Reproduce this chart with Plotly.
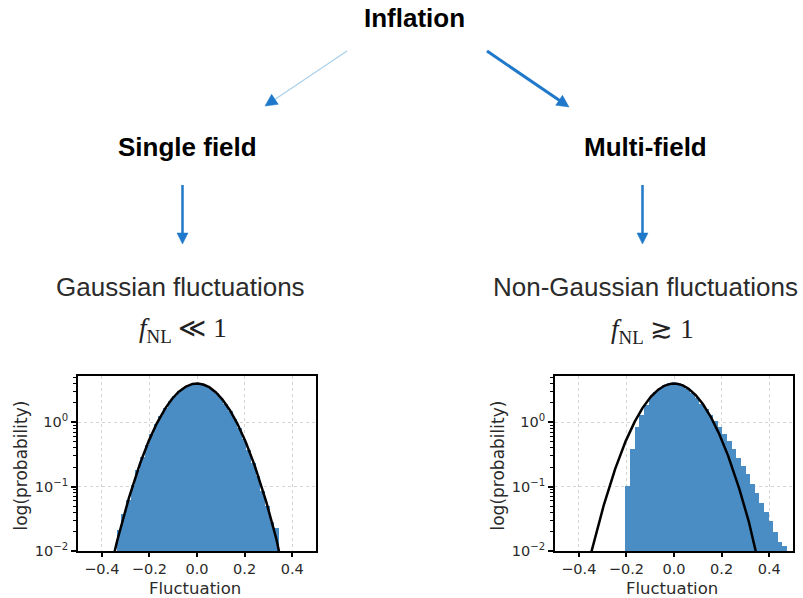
import numpy as np
import plotly.graph_objects as go

# ---- data -------------------------------------------------------------
# histogram densities (35 equal-width bins between the given edges)
single_edges = (-0.337, 0.344)
single_density = [0.021, 0.038, 0.063, 0.107, 0.178, 0.284, 0.44, 0.65, 0.925, 1.26,
                  1.67, 2.11, 2.58, 3.04, 3.45, 3.75, 3.94, 3.99, 3.89, 3.65,
                  3.29, 2.85, 2.40, 1.92, 1.50, 1.11, 0.80, 0.55, 0.37, 0.236,
                  0.146, 0.086, 0.050, 0.028, 0.023]

multi_edges = (-0.204, 0.475)
multi_density = [0.103, 0.39, 0.84, 1.3, 1.85, 2.45, 2.95, 3.45, 3.85, 4.1,
                 4.15, 4.0, 3.7, 3.3, 2.85, 2.4, 1.95, 1.6, 1.28, 1.03,
                 0.83, 0.66, 0.51, 0.38, 0.28, 0.21, 0.155, 0.11, 0.08, 0.056,
                 0.04, 0.029, 0.020, 0.014, 0.012]

# reference normal density (mean 0, sigma 0.1)
ref_mean = 0.0
ref_sigma = 0.1

x_ticks = [-0.4, -0.2, 0.0, 0.2, 0.4]
x_tick_text = ["\u22120.4", "\u22120.2", "0.0", "0.2", "0.4"]
y_ticks = [0.01, 0.1, 1]
y_tick_text = ["10<sup>\u22122</sup>", "10<sup>\u22121</sup>", "10<sup>0</sup>"]

# ---- helpers ----------------------------------------------------------
W, H = 803, 598


def px(x):
    return x / W


def py(y):
    return 1 - y / H


def bin_centers(edges, n):
    e = np.linspace(edges[0], edges[1], n + 1)
    return (e[:-1] + e[1:]) / 2, e[1] - e[0]


BAR = "#4a8dc4"
ARROW = "#1f78c9"
TXT = "#2b2b2b"
AX_TXT = "#2a2a2a"

fig = go.Figure()

curve_x = np.linspace(-0.5, 0.5, 801)
curve_y = np.exp(-0.5 * ((curve_x - ref_mean) / ref_sigma) ** 2) / (np.sqrt(2 * np.pi) * ref_sigma)

for dens, edges, xa, ya in [(single_density, single_edges, "x", "y"),
                            (multi_density, multi_edges, "x2", "y2")]:
    cx, w = bin_centers(edges, len(dens))
    fig.add_trace(go.Bar(x=cx, y=dens, width=w, marker=dict(color=BAR, line=dict(width=0)),
                         xaxis=xa, yaxis=ya, showlegend=False))
    fig.add_trace(go.Scatter(x=curve_x, y=curve_y, mode="lines",
                             line=dict(color="black", width=2.5),
                             xaxis=xa, yaxis=ya, showlegend=False))

tick_font = dict(family="DejaVu Sans", size=14.5, color=AX_TXT)
minor_vals = [m * 10.0 ** d for d in (-2, -1, 0) for m in range(2, 10)]


def xaxis(domain):
    return dict(domain=domain, range=[-0.5, 0.5], tickmode="array", tickvals=x_ticks,
                ticktext=x_tick_text, ticks="outside", ticklen=4, tickwidth=1.5,
                tickcolor="black", showline=True, linecolor="black", linewidth=2,
                mirror=True, showgrid=True, gridcolor="#d4d4d4", griddash="dot",
                gridwidth=1, zeroline=False, tickfont=tick_font, automargin=False)


def yaxis(domain, anchor):
    return dict(domain=domain, anchor=anchor, type="log", range=[-2, 0.718],
                tickmode="array", tickvals=y_ticks, ticktext=y_tick_text,
                ticks="outside", ticklen=5, tickwidth=1.5, tickcolor="black",
                minor=dict(tickmode="array", tickvals=minor_vals, ticks="outside",
                           ticklen=3, tickwidth=1, tickcolor="black", showgrid=False),
                showline=True, linecolor="black", linewidth=2, mirror=True,
                showgrid=True, gridcolor="#d4d4d4", griddash="dot", gridwidth=1,
                zeroline=False, tickfont=tick_font, automargin=False)


panels = [(78, 316), (555, 793)]
ytop, ybot = 376, 551
ydom = [1 - ybot / H, 1 - ytop / H]
fig.update_layout(
    width=W, height=H, margin=dict(l=0, r=0, t=0, b=0),
    paper_bgcolor="white", plot_bgcolor="white", bargap=0,
    xaxis=dict(xaxis([panels[0][0] / W, panels[0][1] / W]), anchor="y"),
    yaxis=yaxis(ydom, "x"),
    xaxis2=dict(xaxis([panels[1][0] / W, panels[1][1] / W]), anchor="y2"),
    yaxis2=yaxis(ydom, "x2"),
)

ann = []
shapes = []


def label(text, x, y, size, bold=False, family="Liberation Sans, Arial, sans-serif",
          color=TXT, angle=0):
    ann.append(dict(text=f"<b>{text}</b>" if bold else text, x=px(x), y=py(y),
                    xref="paper", yref="paper", showarrow=False, xanchor="center",
                    yanchor="middle", textangle=angle, borderpad=0,
                    font=dict(family=family, size=size, color=color)))


def arrow(tail, tip, line_color, width, head_color=None, head_len=11.0, head_w=11.0):
    """Straight shaft plus a filled triangular head, all in pixel units."""
    head_color = head_color or line_color
    t = np.array(tail, float)
    p = np.array(tip, float)
    d = (p - t) / np.linalg.norm(p - t)
    n = np.array([-d[1], d[0]])
    base = p - head_len * d
    end = base + 2 * d
    shapes.append(dict(type="line", xref="paper", yref="paper",
                       x0=px(t[0]), y0=py(t[1]), x1=px(end[0]), y1=py(end[1]),
                       line=dict(color=line_color, width=width)))
    a = base + 0.5 * head_w * n
    b = base - 0.5 * head_w * n
    path = (f"M {px(p[0])} {py(p[1])} L {px(a[0])} {py(a[1])} "
            f"L {px(b[0])} {py(b[1])} Z")
    shapes.append(dict(type="path", xref="paper", yref="paper", path=path,
                       fillcolor=head_color, line=dict(color=head_color, width=0.5)))


# axis titles
for left, right in panels:
    mid = left + (right - left) * 0.5 - 2.5
    label("Fluctuation", mid, 588, 16.5, family="DejaVu Sans", color=AX_TXT)
    label("log(probability)", left - 58, (ytop + ybot) / 2 + 2, 17,
          family="DejaVu Sans", color=AX_TXT, angle=-90)

label("Inflation", 415, 18, 26, bold=True, color="black")
label("Single field", 187.5, 147, 26, bold=True, color="black")
label("Multi-field", 645, 147, 26, bold=True, color="black")
label("Gaussian fluctuations", 180.5, 287, 26)
label("Non-Gaussian fluctuations", 645, 287, 26)
serif = "Liberation Serif, DejaVu Serif, serif"
label("<i>f</i><sub>NL</sub> \u226a 1", 182.5, 330, 27, family=serif, color="#222222")
label("<i>f</i><sub>NL</sub> \u2273 1", 652, 331, 27, family=serif, color="#222222")

# thin branch to the single-field case, with a solid head
arrow((347, 51), (265, 106), "#a9d0ec", 1.2, head_color=ARROW, head_len=12, head_w=12)
# branch to the multi-field case
arrow((487, 51), (569, 107), ARROW, 3, head_len=12, head_w=12)
# down arrows
arrow((182.5, 185), (182.5, 244), ARROW, 2.5)
arrow((642.5, 185), (642.5, 244), ARROW, 2.5)

fig.update_layout(annotations=ann, shapes=shapes)
fig.write_html("out.html")
